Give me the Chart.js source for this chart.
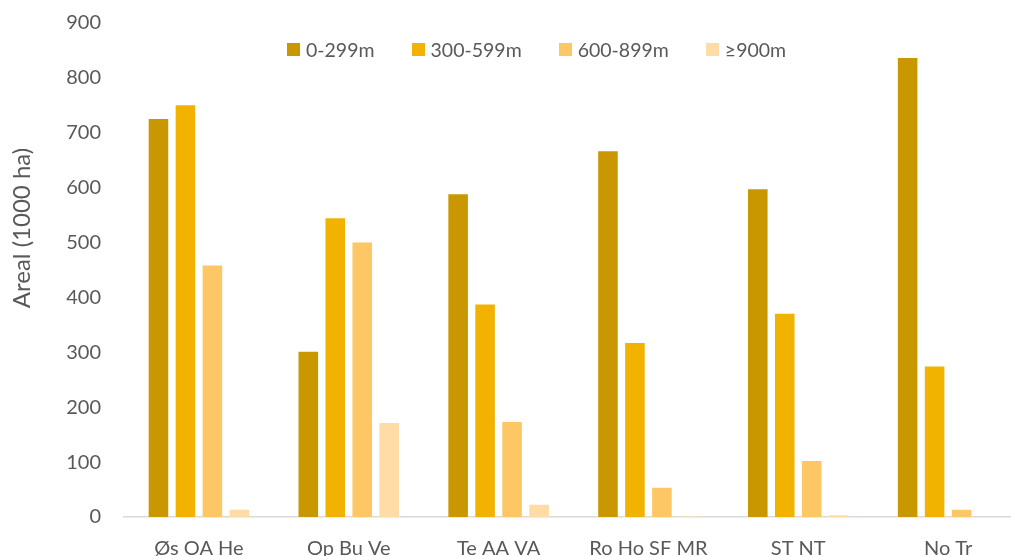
<!DOCTYPE html>
<html>
<head>
<meta charset="utf-8">
<script src="https://cdn.jsdelivr.net/npm/chart.js@4.4.1/dist/chart.umd.min.js"></script>
<style>
    html, body { margin: 0; padding: 0; background: #fff; overflow: hidden; }
    #wrap { position: absolute; left: 0; top: 0; width: 1030px; height: 601px; }
    #legend {
        position: absolute; left: 287px; top: 38px;
        display: flex; gap: 37px;
        font-family: Lato, sans-serif; font-size: 19.5px; color: #595959;
    }
    #legend .item { display: flex; align-items: center; }
    #legend .box { width: 13px; height: 13px; margin-right: 6px; }
</style>
</head>
<body>
<div id="wrap"><canvas id="areaChart"></canvas></div>
<div id="legend"></div>

<script>
// Data
const regions = ['Øs OA He', 'Op Bu Ve', 'Te AA VA', 'Ro Ho SF MR', 'ST NT', 'No Tr'];
const heightBands = ['0-299m', '300-599m', '600-899m', '≥900m'];
const band0_299 = [727, 303, 590, 668, 599, 838];
const band300_599 = [752, 546, 389, 319, 372, 276];
const band600_899 = [460, 502, 175, 55, 104, 15];
const band900up = [15, 173, 24, 2, 5, 0];
const yTicks = [0, 100, 200, 300, 400, 500, 600, 700, 800, 900];
const bandColors = ['#C99700', '#F1B300', '#FEC766', '#FFDBA6'];

const seriesValues = [band0_299, band300_599, band600_899, band900up];

// Legend (HTML)
const legendEl = document.getElementById('legend');
heightBands.forEach((name, i) => {
    const item = document.createElement('div');
    item.className = 'item';
    item.innerHTML = `<span class="box" style="background:${bandColors[i]}"></span><span>${name}</span>`;
    legendEl.appendChild(item);
});

// Y axis title drawn by hand so it can sit where the original has it
const yTitlePlugin = {
    id: 'yTitle',
    afterDraw(chart) {
        const ctx = chart.ctx;
        ctx.save();
        ctx.translate(22, 228);
        ctx.rotate(-Math.PI / 2);
        ctx.font = '24px Lato';
        ctx.fillStyle = '#595959';
        ctx.textAlign = 'center';
        ctx.textBaseline = 'middle';
        ctx.fillText('Areal (1000 ha)', 0, 0);
        ctx.restore();
    }
};

const ctx = document.getElementById('areaChart').getContext('2d');
const areaChart = new Chart(ctx, {
    type: 'bar',
    data: {
        labels: regions,
        datasets: heightBands.map((name, i) => ({
            label: name,
            data: seriesValues[i],
            backgroundColor: bandColors[i],
            borderColor: 'rgba(255,255,255,0.35)',
            borderWidth: 1,
            barPercentage: 0.8,
            categoryPercentage: 0.72
        }))
    },
    options: {
        responsive: true,
        maintainAspectRatio: false,
        animation: false,
        layout: {
            padding: { top: 23, right: 7, bottom: 20, left: 0 }
        },
        plugins: {
            legend: { display: false },
            tooltip: { enabled: false }
        },
        scales: {
            y: {
                min: 0,
                max: 900,
                afterBuildTicks: (scale) => {
                    scale.ticks = yTicks.map(v => ({ value: v }));
                },
                afterFit: (scale) => {
                    scale.width = 124;
                    scale.paddingTop = 0;
                    scale.paddingBottom = 0;
                },
                grid: { display: false, drawTicks: false },
                border: { display: false },
                ticks: {
                    padding: 23,
                    color: '#595959',
                    font: { family: 'Lato', size: 20 }
                }
            },
            x: {
                afterFit: (scale) => {
                    scale.paddingLeft = 0;
                    scale.paddingRight = 0;
                },
                grid: { display: false, drawTicks: false },
                border: { display: true, color: '#D9D9D9', width: 1.5 },
                ticks: {
                    padding: 20,
                    color: '#595959',
                    maxRotation: 0,
                    autoSkip: false,
                    font: { family: 'Lato', size: 20 }
                }
            }
        }
    },
    plugins: [yTitlePlugin]
});
</script>
</body>
</html>
